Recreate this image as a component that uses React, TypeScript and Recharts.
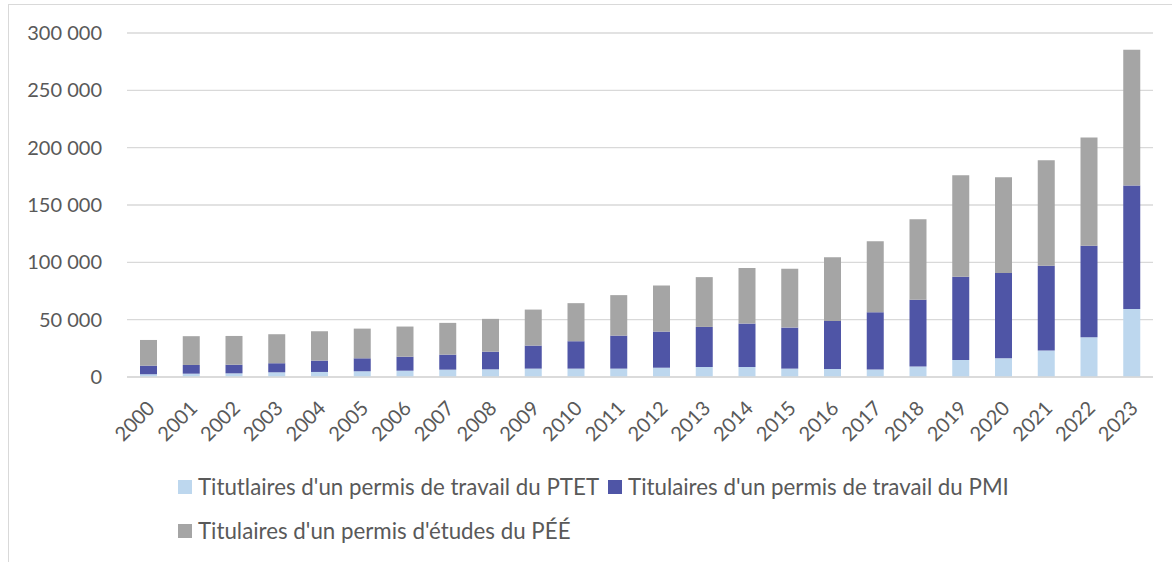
import { BarChart, Bar, XAxis, YAxis, CartesianGrid } from 'recharts';

const years = ['2000', '2001', '2002', '2003', '2004', '2005', '2006', '2007', '2008', '2009', '2010', '2011',
    '2012', '2013', '2014', '2015', '2016', '2017', '2018', '2019', '2020', '2021', '2022', '2023'];

// segment sizes (stacked)
const ptet = [2400, 2900, 3200, 4100, 4400, 5000, 5500, 6400, 6700, 7300, 7300, 7300,
    8100, 8700, 8700, 7300, 7000, 6500, 9100, 14900, 16300, 23100, 34700, 59400];
const pmi = [7500, 7600, 7500, 7900, 9900, 11300, 12200, 13100, 15400, 20100, 23900, 28800,
    31500, 35000, 37900, 35800, 41900, 50000, 58200, 72500, 74300, 73900, 79800, 107500];
const pee = [22400, 25100, 25100, 25300, 25600, 25900, 26300, 27700, 28600, 31400, 33200, 35300,
    40200, 43400, 48400, 51300, 55500, 61800, 70200, 88600, 83700, 92100, 94400, 118400];

const yTicks = [0, 50000, 100000, 150000, 200000, 250000, 300000];

const SERIES = [
    { key: 'ptet', name: "Titutlaires d'un permis de travail du PTET", color: '#bdd7ee' },
    { key: 'pmi', name: "Titulaires d'un permis de travail du PMI", color: '#4f55a6' },
    { key: 'pee', name: "Titulaires d'un permis d'études du PÉÉ", color: '#a5a5a5' },
];

const FONT = 'Lato, "Open Sans", sans-serif';
const TEXT = '#595959';

const data = years.map((year, i) => ({ year, ptet: ptet[i], pmi: pmi[i], pee: pee[i] }));

const fmt = (v: number) => String(v).replace(/\B(?=(\d{3})+(?!\d))/g, ' ');

const YearTick = ({ x, y, payload }: any) => (
    <text
        transform={`translate(${x + 2},${y + 19}) rotate(-45)`}
        textAnchor="end"
        dominantBaseline="central"
        fill={TEXT}
        fontSize={20}
        fontFamily={FONT}
    >
        {payload.value}
    </text>
);

const LegendItem = ({ name, color }: { name: string; color: string }) => (
    <div style={{ display: 'flex', alignItems: 'center', marginRight: 9 }}>
        <span style={{ width: 14, height: 14, background: color, marginRight: 6, display: 'inline-block' }} />
        <span>{name}</span>
    </div>
);

export default function App() {
    return (
        <div style={{ position: 'absolute', left: 0, top: 0, width: 1172, height: 562, background: '#fff', overflow: 'hidden' }}>
            <div style={{ position: 'absolute', left: 8, top: 4, width: 1200, height: 600, borderLeft: '1px solid #d9d9d9', borderTop: '1px solid #d9d9d9' }} />
            <div style={{ position: 'absolute', left: 0, top: 0 }}>
                <BarChart
                    width={1172}
                    height={470}
                    data={data}
                    margin={{ top: 33, right: 19, left: 27, bottom: 13 }}
                    barSize={17}
                >
                    <CartesianGrid vertical={false} stroke="#d9d9d9" strokeWidth={1.3} />
                    <XAxis
                        dataKey="year"
                        height={80}
                        interval={0}
                        tick={<YearTick />}
                        tickLine={false}
                        axisLine={{ stroke: '#d9d9d9', strokeWidth: 1.3 }}
                    />
                    <YAxis
                        width={100}
                        domain={[0, 300000]}
                        ticks={yTicks}
                        tickFormatter={fmt}
                        axisLine={false}
                        tickLine={false}
                        tickSize={0}
                        tickMargin={25}
                        tick={{ fill: TEXT, fontSize: 20, fontFamily: FONT }}
                    />
                    {SERIES.map(s => (
                        <Bar key={s.key} dataKey={s.key} name={s.name} stackId="a" fill={s.color} isAnimationActive={false} />
                    ))}
                </BarChart>
            </div>
            <div style={{ position: 'absolute', left: 178, top: 473, width: 900, display: 'flex', flexWrap: 'wrap', rowGap: 16, fontFamily: FONT, fontSize: 22.3, color: TEXT, lineHeight: '28px' }}>
                {SERIES.map(s => <LegendItem key={s.key} name={s.name} color={s.color} />)}
            </div>
        </div>
    );
}
